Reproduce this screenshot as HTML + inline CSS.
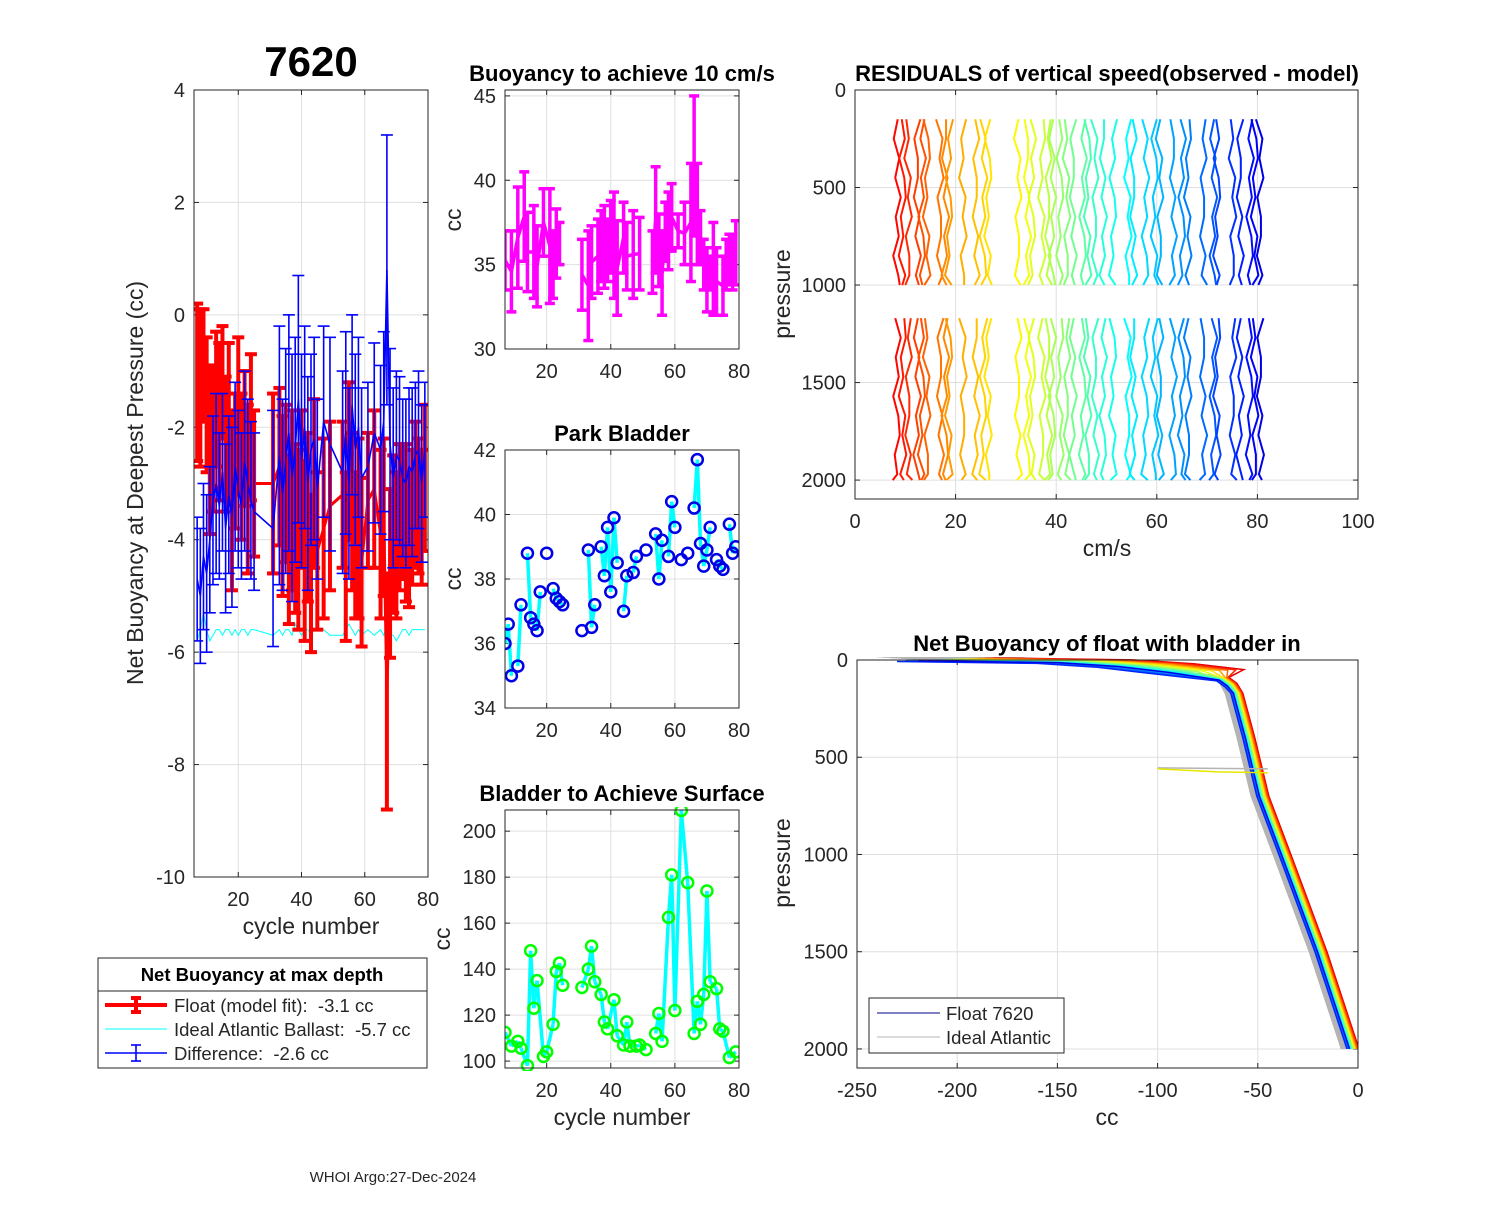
<!DOCTYPE html>
<html><head><meta charset="utf-8"><style>
body{margin:0;background:#fff;}
svg text{font-family:"Liberation Sans",sans-serif;fill:#262626;white-space:pre;}
</style></head><body>
<svg id="s" width="1500" height="1200" xmlns="http://www.w3.org/2000/svg">
<rect width="1500" height="1200" fill="#fff"/>
<g id="g"></g>
</svg>
<script>
// ---------- Panel 1 data ----------
const cyc1=[7,8,9,10,11,12,13,14,15,16,17,18,19,20,21,22,23,24,25,31,33,34,35,36,37,38,39,40,41,42,43,44,45,47,49,53,54,55,56,57,58,59,61,63,65,66,67,68,69,70,71,72,73,74,75,76,77,78,79];
const redV=[-1.2,-1.3,-0.9,-1.6,-2.4,-2.2,-1.5,-1.9,-1.2,-2.3,-1.9,-3.3,-2.6,-1.8,-2.7,-2.2,-3.1,-2.0,-3.0,-3.0,-2.7,-3.4,-3.0,-4.0,-3.3,-3.8,-4.0,-3.1,-4.2,-3.6,-4.6,-3.0,-4.2,-3.8,-3.4,-3.2,-4.3,-2.6,-3.5,-4.1,-3.8,-4.4,-3.3,-3.1,-3.9,-3.6,-6.7,-4.6,-3.9,-4.1,-3.6,-3.5,-3.7,-4.0,-3.6,-3.2,-3.4,-3.6,-2.9];
const redE=[1.4,1.4,1.0,1.2,1.5,1.3,1.2,1.4,1.0,1.2,1.4,1.6,1.2,1.4,1.3,1.2,1.5,1.3,1.3,1.6,1.4,1.6,1.4,1.5,1.6,1.5,1.6,1.4,1.6,1.5,1.4,1.5,1.4,1.6,1.5,1.3,1.5,1.4,1.4,1.3,1.6,1.5,1.2,1.4,1.5,1.4,2.1,1.5,1.4,1.3,1.3,1.2,1.4,1.2,1.2,1.3,1.2,1.2,1.3];
const bluV=[-4.7,-5.0,-4.3,-4.6,-4.0,-3.3,-3.0,-3.4,-2.8,-3.8,-3.2,-3.6,-2.7,-3.1,-3.4,-2.6,-3.0,-3.3,-3.5,-3.8,-2.5,-3.2,-2.6,-2.1,-2.9,-2.4,-1.5,-2.6,-2.0,-3.0,-2.4,-2.2,-3.1,-1.9,-2.3,-2.8,-2.1,-3.0,-1.6,-2.4,-2.0,-2.9,-2.7,-2.1,-2.4,-1.9,0.8,-2.3,-2.9,-2.5,-2.6,-2.9,-3.0,-2.7,-2.8,-2.5,-2.4,-3.0,-2.4];
const bluE=[1.1,1.2,1.3,1.4,1.3,1.5,1.6,1.3,1.4,1.5,1.4,1.6,1.5,1.4,1.3,1.6,1.5,1.4,1.4,2.1,2.3,1.7,2.0,2.1,2.2,2.0,2.2,1.9,1.8,1.9,1.7,1.8,1.6,1.7,1.9,1.8,1.8,1.7,1.6,1.7,1.6,1.6,1.5,1.6,1.5,1.6,2.4,1.7,1.6,1.5,1.5,1.4,1.5,1.4,1.5,1.3,1.4,1.4,1.2];
const ideal=[-5.8,-5.6,-5.3,-5.6,-5.8,-5.7,-5.6,-5.6,-5.7,-5.6,-5.6,-5.7,-5.6,-5.7,-5.6,-5.6,-5.7,-5.6,-5.6,-5.7,-5.6,-5.7,-5.6,-5.6,-5.7,-5.5,-5.6,-5.7,-5.6,-5.6,-5.7,-5.6,-5.6,-5.6,-5.7,-5.7,-5.6,-5.5,-5.6,-5.7,-5.6,-5.7,-5.6,-5.7,-5.6,-5.7,-5.5,-5.7,-5.7,-5.8,-5.7,-5.6,-5.6,-5.7,-5.6,-5.6,-5.6,-5.6,-5.6];
const p1YTicks=[4,2,0,-2,-4,-6,-8,-10];
const cycTicks=[20,40,60,80];
// ---------- Panel 2 data ----------
const cyc2=[7,9,11,13,14,16,17,19,21,22,23,24,31,33,34,36,37,38,39,40,41,42,44,45,47,49,53,54,55,56,57,58,59,61,63,65,66,67,68,69,70,71,72,73,75,76,77,78,79];
const buoLo=[33.5,32.2,33.6,35.2,33.4,33.0,32.5,35.5,32.7,33.0,34.2,35.0,32.3,30.5,33.0,33.3,34.0,33.6,34.0,34.5,33.0,32.0,34.5,33.5,33.0,33.5,33.3,34.5,33.7,32.0,35.2,34.7,35.8,36.0,35.0,34.0,36.7,35.0,35.0,33.5,32.2,33.5,32.0,32.0,32.0,33.5,33.8,33.5,33.8];
const buoHi=[37.0,37.0,39.6,40.5,38.1,38.5,37.3,39.5,39.5,37.0,38.3,37.5,36.5,37.0,37.3,37.7,38.2,38.5,37.7,38.8,39.3,37.6,38.7,37.5,38.2,37.8,37.0,40.8,38.0,37.0,38.7,39.3,39.8,38.0,38.7,41.0,45.0,41.0,38.2,36.5,36.0,35.5,37.5,36.0,35.5,36.5,36.8,36.8,37.6];
const p2YTicks=[30,35,40,45];
// ---------- Panel 3 data ----------
const cyc3=[7,8,9,11,12,14,15,16,17,18,20,22,23,24,25,31,33,34,35,37,38,39,40,41,42,44,45,47,48,51,54,55,56,58,59,60,62,64,66,67,68,69,70,71,73,74,75,77,78,79];
const park=[36.0,36.6,35.0,35.3,37.2,38.8,36.8,36.6,36.4,37.6,38.8,37.7,37.4,37.3,37.2,36.4,38.9,36.5,37.2,39.0,38.1,39.6,37.6,39.9,38.5,37.0,38.1,38.2,38.7,38.9,39.4,38.0,39.2,38.7,40.4,39.6,38.6,38.8,40.2,41.7,39.1,38.4,38.9,39.6,38.6,38.4,38.3,39.7,38.8,39.0];
const p3YTicks=[34,36,38,40,42];
// ---------- Panel 4 data ----------
const cyc4=[7,9,11,12,14,15,16,17,19,20,22,23,24,25,31,33,34,35,37,38,39,41,42,44,45,46,48,49,51,54,55,56,58,59,60,62,64,66,67,68,69,70,71,73,74,75,77,79];
const surf=[112.5,106.5,108.6,105.6,98,148,123,135,102,104,116,139,142.6,133,132,140,150,134.5,129,117,114,126.7,111,107,117,106.5,106.5,107,105,112,120.7,108.6,162.5,181,122,209,177.6,112,126,116,129,174,134.5,131.5,114,113,101.5,104];
const p4YTicks=[100,120,140,160,180,200];
// ---------- Panel 5 data ----------
const resX=[8.3,9.5,10.6,12.3,13.3,14.3,16.9,17.9,18.7,21.5,24,25.5,26.5,32.4,34.2,35.2,37.2,38.4,39.2,40.8,42.1,43.3,45.3,46.3,47.7,49.3,51.3,54.3,55.3,57.7,59.6,60.6,63.2,65,66.2,69.2,71.2,72,75.1,76.5,78.5,79.5,80.5];
const wig=[0.2,-0.6,0.5,-0.3,0.8,-0.2,0.4,-0.7,0.3,0.6,-0.4,0.1,-0.8,0.5,-0.1,0.7,-0.5,0.2];
const resP=[150,250,350,450,550,650,750,850,950,1000];
const resP2=[1170,1270,1370,1470,1570,1670,1770,1870,1970,2000];
const p5XTicks=[0,20,40,60,80,100];
const presTicks=[0,500,1000,1500,2000];
// ---------- Panel 6 data ----------
const nbP=[0,10,30,60,100,130,170,400,700,1000,1250,1500,1750,2000];
const nbC=[-210,-140,-110,-85,-68,-64,-61,-55,-48,-37,-28,-19,-11,-3];
const colOff=[3.5,3,2.5,2,1.5,1,0.5,0,-0.5,-1,-1.5,-2,-2.5,-1.2];
const grayOff=[-2.5,-3,-3.5,-4,-4.5,-2,-5,-3.8];
const p6XTicks=[-250,-200,-150,-100,-50,0];

const NS='http://www.w3.org/2000/svg';
const G=document.getElementById('g');
function el(tag,attrs,parent,txt){const e=document.createElementNS(NS,tag);for(const k in attrs)e.setAttribute(k,attrs[k]);if(txt!==undefined)e.textContent=txt;(parent||G).appendChild(e);return e;}
function lin(d0,d1,r0,r1){return v=>r0+(v-d0)/(d1-d0)*(r1-r0);}
function jet(t){const r=Math.min(Math.max(Math.min(4*t-1.5,-4*t+4.5),0),1),g=Math.min(Math.max(Math.min(4*t-0.5,-4*t+3.5),0),1),b=Math.min(Math.max(Math.min(4*t+0.5,-4*t+2.5),0),1);return `rgb(${Math.round(r*255)},${Math.round(g*255)},${Math.round(b*255)})`;}

function axes(name,x0,x1,y0,y1,xs,ys,xt,yt){
  const ax=el('g',{});
  
  
  for(const t of xt){const x=xs(t);const gl=el('line',{x1:x,x2:x,y1:y0,y2:y1,stroke:'#dfdfdf','stroke-width':1},ax);
    el('line',{x1:x,x2:x,y1:y1,y2:y1-5,stroke:'#262626'},ax);el('line',{x1:x,x2:x,y1:y0,y2:y0+5,stroke:'#262626'},ax);
    const tl=el('text',{x:x,y:y1+29,'font-size':20,'text-anchor':'middle'},ax,String(t));}
  for(const t of yt){const y=ys(t);const gl=el('line',{x1:x0,x2:x1,y1:y,y2:y,stroke:'#dfdfdf','stroke-width':1},ax);
    el('line',{x1:x0,x2:x0+5,y1:y,y2:y,stroke:'#262626'},ax);el('line',{x1:x1,x2:x1-5,y1:y,y2:y,stroke:'#262626'},ax);
    const tl=el('text',{x:x0-9,y:y+7,'font-size':20,'text-anchor':'end'},ax,String(t));}
  const plot=el('g',{});
  
  
  const cid=name+'-clip';
  const cp=el('clipPath',{id:cid},G);el('rect',{x:x0,y:y0-3,width:x1-x0,height:y1-y0+6},cp);
  plot.setAttribute('clip-path',`url(#${cid})`);
  return {ax,plot,finish:()=>{const b=el('rect',{x:x0,y:y0,width:x1-x0,height:y1-y0,fill:'none',stroke:'#262626','stroke-width':1});}};
}
function txt(name,x,y,s,size,anchor,bold,rot){const a={x:x,y:y,'font-size':size,'text-anchor':anchor||'middle'};if(bold)a['font-weight']='bold';if(rot)a.transform=`rotate(-90 ${x} ${y})`;const t=el('text',a,G,s);if(bold)t.style.fill='#000';return t;}
function errbar(p,x,yl,yh,col,w,cap){el('line',{x1:x,x2:x,y1:yl,y2:yh,stroke:col,'stroke-width':w},p);el('line',{x1:x-cap,x2:x+cap,y1:yl,y2:yl,stroke:col,'stroke-width':w},p);el('line',{x1:x-cap,x2:x+cap,y1:yh,y2:yh,stroke:col,'stroke-width':w},p);}

// ===== Panel 1 =====
{const x0=194,x1=428,y0=90,y1=877;const xs=lin(6,80,x0,x1),ys=lin(4,-10,y0,y1);
const A=axes('net-buoyancy-axes',x0,x1,y0,y1,xs,ys,cycTicks,p1YTicks);
const P=A.plot;
el('polyline',{points:cyc1.map((c,i)=>xs(c)+','+ys(ideal[i])).join(' '),fill:'none',stroke:'#00ffff','stroke-width':1},P);
const red=el('g',{},P);
cyc1.forEach((c,i)=>errbar(red,xs(c),ys(redV[i]-redE[i]),ys(redV[i]+redE[i]),'#ff0000',4,6));
el('polyline',{points:cyc1.map((c,i)=>xs(c)+','+ys(redV[i])).join(' '),fill:'none',stroke:'#ff0000','stroke-width':3},red);
const blu=el('g',{},P);
cyc1.forEach((c,i)=>errbar(blu,xs(c),ys(bluV[i]-bluE[i]),ys(bluV[i]+bluE[i]),'#0000ff',1.6,6));
el('polyline',{points:cyc1.map((c,i)=>xs(c)+','+ys(bluV[i])).join(' '),fill:'none',stroke:'#0000ff','stroke-width':1.6},blu);
A.finish();
txt('main-title-7620',311,76,'7620',42,'middle',true);
txt('x-axis-title',311,934,'cycle number',23);
txt('y-axis-title',143,483,'Net Buoyancy at Deepest Pressure (cc)',23,'middle',false,true);
const lg=el('g',{});
el('rect',{x:98,y:958,width:329,height:110,fill:'#fff',stroke:'#262626'},lg);
el('line',{x1:98,x2:427,y1:991,y2:991,stroke:'#262626'},lg);
const lt=el('text',{x:262,y:981,'font-size':18.5,'font-weight':'bold','text-anchor':'middle'},lg,'Net Buoyancy at max depth');lt.style.fill='#000';
el('line',{x1:105,x2:167,y1:1005,y2:1005,stroke:'#f00','stroke-width':4},lg);errbar(lg,136,998,1012,'#f00',4,5);
el('text',{x:174,y:1012,'font-size':18.5},lg,'Float (model fit):  -3.1 cc');
el('line',{x1:105,x2:167,y1:1029,y2:1029,stroke:'#00ffff','stroke-width':1},lg);
el('text',{x:174,y:1036,'font-size':18.5},lg,'Ideal Atlantic Ballast:  -5.7 cc');
el('line',{x1:105,x2:167,y1:1053,y2:1053,stroke:'#00f','stroke-width':1.6},lg);errbar(lg,136,1045,1061,'#00f',1.6,5);
el('text',{x:174,y:1060,'font-size':18.5},lg,'Difference:  -2.6 cc');
}
// ===== Panel 2 =====
{const x0=505,x1=739,y0=90,y1=349;const xs=lin(7,80,x0,x1),ys=lin(30,45.35,y1,y0);
const A=axes('buoyancy-10cms-axes',x0,x1,y0,y1,xs,ys,cycTicks,p2YTicks);
cyc2.forEach((c,i)=>errbar(A.plot,xs(c),ys(buoLo[i]),ys(buoHi[i]),'#ff00ff',3.5,5));
for(let i=0;i<cyc2.length-1;i++){if(cyc2[i+1]-cyc2[i]<=2)el('line',{x1:xs(cyc2[i]),y1:ys((buoLo[i]+buoHi[i])/2),x2:xs(cyc2[i+1]),y2:ys((buoLo[i+1]+buoHi[i+1])/2),stroke:'#ff00ff','stroke-width':3.5},A.plot);}
A.finish();
txt('buoyancy-10cms-title',622,81,'Buoyancy to achieve 10 cm/s',22,'middle',true);
txt('buoyancy-10cms-y-title',461,220,'cc',23,'middle',false,true);
}
// ===== Panel 3 =====
{const x0=505,x1=739,y0=450,y1=708;const xs=lin(7,80,x0,x1),ys=lin(34,42,y1,y0);
const A=axes('park-bladder-axes',x0,x1,y0,y1,xs,ys,cycTicks,p3YTicks);
for(let i=0;i<cyc3.length-1;i++){if(cyc3[i+1]-cyc3[i]===1)el('line',{x1:xs(cyc3[i]),y1:ys(park[i]),x2:xs(cyc3[i+1]),y2:ys(park[i+1]),stroke:'#00ffff','stroke-width':3.5},A.plot);}
cyc3.forEach((c,i)=>{const m=el('circle',{cx:xs(c),cy:ys(park[i]),r:5.5,fill:'none',stroke:'#0000e6','stroke-width':2.5},A.plot);});
A.finish();
txt('park-bladder-title',622,441,'Park Bladder',22,'middle',true);
txt('park-bladder-y-title',461,579,'cc',23,'middle',false,true);
}
// ===== Panel 4 =====
{const x0=505,x1=739,y0=810,y1=1068;const xs=lin(7,80,x0,x1),ys=lin(97,209.2,y1,y0);
const A=axes('bladder-surface-axes',x0,x1,y0,y1,xs,ys,cycTicks,p4YTicks);
for(let i=0;i<cyc4.length-1;i++){if(cyc4[i+1]-cyc4[i]<=2)el('line',{x1:xs(cyc4[i]),y1:ys(surf[i]),x2:xs(cyc4[i+1]),y2:ys(surf[i+1]),stroke:'#00ffff','stroke-width':3.5},A.plot);}
cyc4.forEach((c,i)=>{const m=el('circle',{cx:xs(c),cy:ys(surf[i]),r:5.5,fill:'none',stroke:'#00ff00','stroke-width':2.5},A.plot);});
A.finish();
txt('bladder-surface-title',622,801,'Bladder to Achieve Surface',22,'middle',true);
txt('bladder-surface-y-title',450,939,'cc',23,'middle',false,true);
txt('bladder-surface-x-title',622,1125,'cycle number',23);
}
// ===== Panel 5 =====
{const x0=855,x1=1358,y0=90,y1=499;const xs=lin(0,100,x0,x1),ys=lin(0,2097,y0,y1);
const A=axes('residuals-axes',x0,x1,y0,y1,xs,ys,p5XTicks,presTicks);
resX.forEach((v,i)=>{const c=jet(0.87-0.77*i/(resX.length-1));
  [resP,resP2].forEach((ps,k)=>{const pl=el('polyline',{points:ps.map((p,j)=>xs(v+wig[(j+i*5+k*3)%wig.length]*1.0)+','+ys(p)).join(' '),fill:'none',stroke:c,'stroke-width':2},A.plot);});});
A.finish();
txt('residuals-title',1107,81,'RESIDUALS of vertical speed(observed - model)',22,'middle',true);
txt('residuals-x-title',1107,556,'cm/s',23);
txt('residuals-y-title',790,294,'pressure',23,'middle',false,true);
}
// ===== Panel 6 =====
{const x0=857,x1=1358,y0=660,y1=1068;const xs=lin(-250,0,x0,x1),ys=lin(0,2098,y0,y1);
const A=axes('net-buoyancy-bladder-axes',x0,x1,y0,y1,xs,ys,p6XTicks,presTicks);
grayOff.forEach((o,i)=>{const pl=el('polyline',{points:nbP.map((p,j)=>xs(nbC[j]+o*(j<4?6:1))+','+ys(p+(j<6?o*4:0))).join(' '),fill:'none',stroke:'#b4b4b4','stroke-width':2.5},A.plot);});
colOff.forEach((o,i)=>{const pl=el('polyline',{points:nbP.map((p,j)=>xs(nbC[j]+o*(j<4?8:1))+','+ys(p+(j<6?-o*3:0))).join(' '),fill:'none',stroke:jet(0.9-0.8*i/(colOff.length-1)),'stroke-width':1.5},A.plot);});
el('polyline',{points:[[-100,555],[-65,558],[-45,560]].map(q=>xs(q[0])+','+ys(q[1])).join(' '),fill:'none',stroke:'#b4b4b4','stroke-width':1.5},A.plot);
el('polyline',{points:[[-100,560],[-70,575],[-45,580]].map(q=>xs(q[0])+','+ys(q[1])).join(' '),fill:'none',stroke:'#e6e600','stroke-width':1.5},A.plot);
A.finish();
const lg=el('g',{});
el('rect',{x:869,y:998,width:195,height:55,fill:'#fff',stroke:'#262626'},lg);
el('line',{x1:877,x2:940,y1:1013,y2:1013,stroke:'#00008b','stroke-width':1},lg);
el('text',{x:946,y:1020,'font-size':18.5},lg,'Float 7620');
el('line',{x1:877,x2:940,y1:1037,y2:1037,stroke:'#b4b4b4','stroke-width':1},lg);
el('text',{x:946,y:1044,'font-size':18.5},lg,'Ideal Atlantic');
txt('net-buoyancy-bladder-title',1107,651,'Net Buoyancy of float with bladder in',22,'middle',true);
txt('net-buoyancy-bladder-x-title',1107,1125,'cc',23);
txt('net-buoyancy-bladder-y-title',790,863,'pressure',23,'middle',false,true);
}
txt('footer-credit',393,1182,'WHOI Argo:27-Dec-2024',15,'middle');
</script>
</body></html>
